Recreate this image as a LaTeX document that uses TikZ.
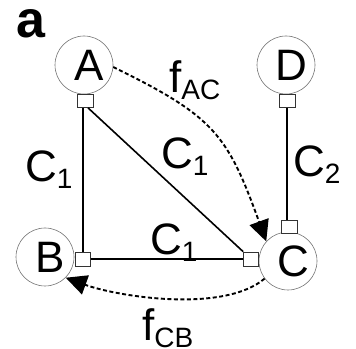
\documentclass[tikz,border=0pt]{standalone}
\usepackage{fontspec}
\setmainfont{Liberation Sans}
\usetikzlibrary{arrows.meta}

% lowered subscript for the link and flow labels
\newcommand{\lowsub}[1]{\raisebox{-7pt}{\fontsize{28}{30}\selectfont #1}}

\begin{document}
\begin{tikzpicture}[x=1pt,y=1pt,
    station/.style={circle, draw=black!55, line width=0.6pt, minimum size=58pt, inner sep=0pt,
        label={[xshift=5pt, inner sep=0pt, font=\fontsize{44}{48}\selectfont]center:#1}},
    port/.style={draw=black!80, fill=white, line width=0.7pt, minimum width=16pt, minimum height=13pt, inner sep=0pt},
    sideport/.style={port, minimum width=15pt, minimum height=14pt},
    link/.style={line width=1.6pt},
    flow/.style={line width=1.9pt, dash pattern=on 4pt off 2.5pt, -{Triangle[length=21pt,width=20pt]}},
    tag/.style={anchor=base west, inner sep=0pt, font=\fontsize{44}{48}\selectfont}]
    \useasboundingbox (0,0) rectangle (356,348);

    % Panel letter
    \node[anchor=base west, inner sep=0pt, font=\fontsize{52}{56}\selectfont\bfseries] (panel) at (16,310) {a};

    % Stations
    \node[station=A] (A) at (84,283) {};
    \node[station=D] (D) at (286,283) {};
    \node[station=B] (B) at (45,91) {};
    \node[station=C] (C) at (288,87) {};

    % Ports
    \node[port] (Ap) at (85,247) {};
    \node[port] (Dp) at (287,247) {};
    \node[port] (Ct) at (289,121) {};
    \node[sideport] (Cl) at (251,89) {};
    \node[sideport] (Bp) at (83,89) {};

    % Links
    \draw[link] (Ap.south -| Bp) -- (Bp.north);
    \draw[link] ([xshift=3pt]Ap.south) -- (Cl.north west);
    \draw[link] (Bp.east) -- (Cl.west);
    \draw[link] (Dp.south) -- (Dp.south |- Ct.north);

    % Flows
    \draw[flow] (A.-4) to[out=-26, in=110, looseness=1.25] (C.138);
    \draw[flow] (C.217) to[out=220, in=-20, looseness=0.7] (B.-45);

    % Labels
    \node[tag] (cab) at (25,166) {C\lowsub{1}};
    \node[tag] (cac) at (161,179) {C\lowsub{1}};
    \node[tag] (cbc) at (150,93) {C\lowsub{1}};
    \node[tag] (cdc) at (293,171) {C\lowsub{2}};
    \node[tag] (fac) at (169,255) {f\lowsub{AC}};
    \node[tag] (fcb) at (142,8) {f\lowsub{CB}};
\end{tikzpicture}
\end{document}
